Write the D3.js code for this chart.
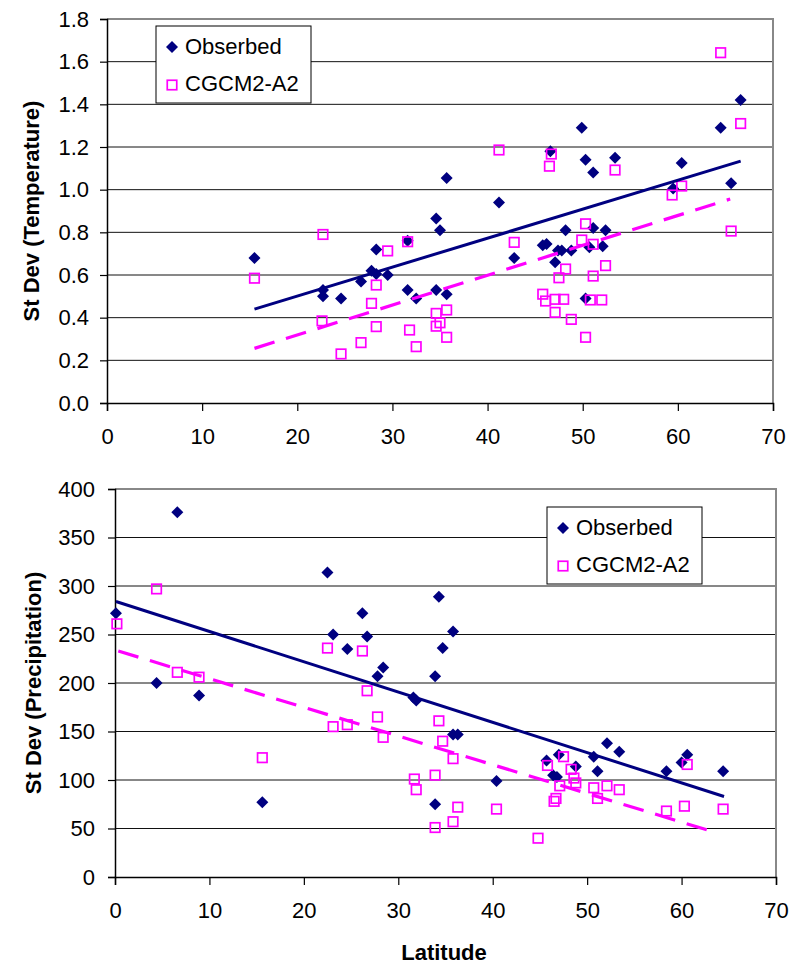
<!DOCTYPE html>
<html>
<head>
<meta charset="utf-8">
<script src="https://cdn.jsdelivr.net/npm/d3@7"></script>
<style>
  body { margin: 0; background: #fff; }
  svg { display: block; font-family: "Liberation Sans", Arial, sans-serif; }
</style>
</head>
<body>
<svg id="chart" width="803" height="965"></svg>
<script>
// top panel: temperature
const tempObsLat = [15.5, 22.7, 22.7, 24.6, 26.7, 28.3, 27.8, 28.3, 29.5, 31.6, 31.6, 32.5, 34.6, 35.0, 35.7, 34.6, 35.7,
    41.2, 42.8, 45.8, 46.2, 46.6, 47.4, 47.8, 48.8, 47.1, 48.2, 49.9, 50.3, 51.1, 51.1, 52.4, 52.1, 50.7, 50.3, 53.4,
    60.4, 59.5, 64.5, 66.6, 65.6];
const tempObs = [0.68, 0.53, 0.50, 0.49, 0.57, 0.72, 0.62, 0.605, 0.60, 0.76, 0.53, 0.49, 0.865, 0.81, 1.055, 0.53, 0.51,
    0.94, 0.68, 0.74, 0.745, 1.18, 0.715, 0.715, 0.715, 0.66, 0.81, 1.29, 1.14, 1.08, 0.82, 0.81, 0.735, 0.73, 0.49, 1.15,
    1.125, 1.005, 1.29, 1.42, 1.03];
const tempModLat = [15.5, 22.7, 22.6, 24.6, 26.7, 27.8, 28.3, 28.3, 29.5, 31.6, 31.8, 32.5, 34.6, 34.6, 35.0, 35.7, 35.7,
    41.2, 42.8, 46.7, 46.5, 45.8, 46.1, 47.1, 48.0, 47.1, 47.5, 48.2, 48.8, 50.3, 49.9, 51.1, 51.1, 52.4, 50.8, 52.0, 50.3,
    53.4, 59.4, 60.4, 64.5, 66.6, 65.6];
const tempMod = [0.585, 0.79, 0.385, 0.23, 0.283, 0.467, 0.553, 0.358, 0.713, 0.756, 0.342, 0.264, 0.42, 0.36, 0.376, 0.436, 0.308,
    1.186, 0.753, 1.167, 1.11, 0.51, 0.478, 0.486, 0.486, 0.425, 0.587, 0.628, 0.392, 0.84, 0.764, 0.744, 0.595, 0.644, 0.483, 0.483, 0.308,
    1.092, 0.975, 1.017, 1.642, 1.31, 0.806];
const tempObsTrend = [[15.5, 0.44], [66.6, 1.134]];
const tempModTrend = [[15.5, 0.256], [65.5, 0.956]];
const tempTicks = [0, 0.2, 0.4, 0.6, 0.8, 1.0, 1.2, 1.4, 1.6, 1.8];

// bottom panel: precipitation
const precObsLat = [0.1, 6.6, 4.4, 8.9, 15.6, 22.5, 23.1, 24.6, 26.2, 26.7, 28.4, 27.8, 31.6, 31.9, 34.3, 34.7, 33.9, 33.9,
    35.8, 35.8, 36.3, 40.4, 46.4, 46.8, 45.7, 47.0, 48.8, 50.7, 51.1, 52.1, 53.4, 58.4, 60.6, 60.0, 64.4];
const precObs = [272, 376, 200, 187, 77, 314, 250, 235, 272, 248, 216, 207, 185, 182, 289, 236, 207, 75,
    253, 147, 147, 99, 105, 103, 120, 126, 114, 124, 109, 138, 129, 109, 126, 118, 109];
const precModLat = [0.2, 4.4, 6.6, 8.9, 15.6, 22.5, 23.1, 24.6, 26.2, 26.7, 27.8, 28.4, 31.7, 31.9, 33.9, 33.9, 34.3, 34.7,
    35.8, 36.3, 35.8, 40.4, 44.8, 45.8, 47.5, 48.3, 48.6, 48.8, 47.1, 46.5, 46.7, 50.7, 51.1, 52.1, 53.4, 58.4, 60.3, 60.6, 64.4];
const precMod = [261, 297, 211, 206, 123, 236, 155, 157, 233, 192, 165, 144, 101, 90, 105, 51, 161, 140,
    122, 72, 57, 70, 40, 115, 124, 111, 102, 97, 94, 78, 81, 92, 81, 94, 90, 68, 73, 116, 70];
const precObsTrend = [[0.1, 284], [64.5, 83]];
const precModTrend = [[0.35, 233], [62.9, 48]];
const precTicks = [0, 50, 100, 150, 200, 250, 300, 350, 400];

const latTicks = [0, 10, 20, 30, 40, 50, 60, 70];
const seriesNames = ["Obserbed", "CGCM2-A2"];

const navy = "#000080", magenta = "#ff00ff";
const svg = d3.select("#chart");
svg.append("rect").attr("width", 803).attr("height", 965).attr("fill", "#fff");

function diamond(r) {
    return `M0,${-r}L${r},0L0,${r}L${-r},0Z`;
}

function drawPanel(cfg) {
    const x = d3.scaleLinear().domain([0, 70]).range([cfg.left, cfg.right]);
    const y = d3.scaleLinear().domain([0, cfg.yTicks[cfg.yTicks.length - 1]]).range([cfg.bottom, cfg.top]);
    const g = svg.append("g");

    // gridlines
    g.append("g").selectAll("line")
        .data(cfg.yTicks.slice(1, -1)).enter()
        .append("line")
        .attr("x1", cfg.left).attr("x2", cfg.right)
        .attr("y1", d => y(d)).attr("y2", d => y(d))
        .attr("stroke", "#111").attr("stroke-width", 1);

    // plot frame (top / right)
    g.append("path")
        .attr("d", `M${cfg.left},${cfg.top}H${cfg.right}V${cfg.bottom}`)
        .attr("fill", "none").attr("stroke", "#888").attr("stroke-width", 2);

    const yAxis = g.append("g")
        .attr("transform", `translate(${cfg.left},0)`)
        .call(d3.axisLeft(y).tickValues(cfg.yTicks).tickSize(7).tickPadding(cfg.yPad).tickFormat(cfg.fmt));
    const xAxis = g.append("g")
        .attr("transform", `translate(0,${cfg.bottom})`)
        .call(d3.axisBottom(x).tickValues(latTicks).tickSize(8).tickPadding(17).tickFormat(d3.format("d")));
    [yAxis, xAxis].forEach((a) => {
        a.select(".domain").attr("stroke", "#000").attr("stroke-width", 1.5);
        a.selectAll(".tick line").attr("stroke", "#000").attr("stroke-width", 1.2);
        a.selectAll("text").attr("font-size", 22).attr("fill", "#000").attr("font-family", "Liberation Sans, Arial, sans-serif");
    });

    // markers
    g.append("g").selectAll("path")
        .data(cfg.obsLat.map((d, i) => [d, cfg.obs[i]])).enter()
        .append("path")
        .attr("d", diamond(6))
        .attr("transform", d => `translate(${x(d[0])},${y(d[1])})`)
        .attr("fill", navy);
    g.append("g").selectAll("rect")
        .data(cfg.modLat.map((d, i) => [d, cfg.mod[i]])).enter()
        .append("rect")
        .attr("x", d => x(d[0]) - 4.75).attr("y", d => y(d[1]) - 4.75)
        .attr("width", 9.5).attr("height", 9.5)
        .attr("fill", "none").attr("stroke", magenta).attr("stroke-width", 1.7);

    // trend lines
    const line = d3.line().x(d => x(d[0])).y(d => y(d[1]));
    g.append("path").attr("d", line(cfg.obsTrend))
        .attr("fill", "none").attr("stroke", navy).attr("stroke-width", 3);
    g.append("path").attr("d", line(cfg.modTrend))
        .attr("fill", "none").attr("stroke", magenta).attr("stroke-width", 3.2)
        .attr("stroke-dasharray", "21,12");

    // y title
    g.append("text")
        .attr("transform", `translate(${cfg.titleX},${(cfg.top + cfg.bottom) / 2}) rotate(-90)`)
        .attr("text-anchor", "middle")
        .attr("font-size", 22).attr("font-weight", "bold")
        .text(cfg.yTitle);

    // legend
    const lg = g.append("g").attr("transform", `translate(${cfg.legend[0]},${cfg.legend[1]})`);
    lg.append("rect").attr("width", 155).attr("height", 77)
        .attr("fill", "#fff").attr("stroke", "#000").attr("stroke-width", 1);
    lg.append("path").attr("d", diamond(6)).attr("transform", "translate(16,21)").attr("fill", navy);
    lg.append("rect").attr("x", 11.25).attr("y", 54.25).attr("width", 9.5).attr("height", 9.5)
        .attr("fill", "none").attr("stroke", magenta).attr("stroke-width", 1.7);
    lg.selectAll("text").data(seriesNames).enter()
        .append("text")
        .attr("x", 29).attr("y", (d, i) => i === 0 ? 27.5 : 65)
        .attr("font-size", 22)
        .text(d => d);
}

drawPanel({
    left: 107, right: 773, top: 19, bottom: 403,
    yTicks: tempTicks, fmt: d3.format(".1f"), yPad: 11,
    obsLat: tempObsLat, obs: tempObs, modLat: tempModLat, mod: tempMod,
    obsTrend: tempObsTrend, modTrend: tempModTrend,
    yTitle: "St Dev (Temperature)", titleX: 39,
    legend: [156, 26]
});

drawPanel({
    left: 115, right: 776, top: 489, bottom: 877,
    yTicks: precTicks, fmt: d3.format("d"), yPad: 13,
    obsLat: precObsLat, obs: precObs, modLat: precModLat, mod: precMod,
    obsTrend: precObsTrend, modTrend: precModTrend,
    yTitle: "St Dev (Precipitation)", titleX: 41,
    legend: [547, 507]
});

svg.append("text")
    .attr("x", 444).attr("y", 960)
    .attr("text-anchor", "middle")
    .attr("font-size", 22).attr("font-weight", "bold")
    .text("Latitude");
</script>
</body>
</html>
